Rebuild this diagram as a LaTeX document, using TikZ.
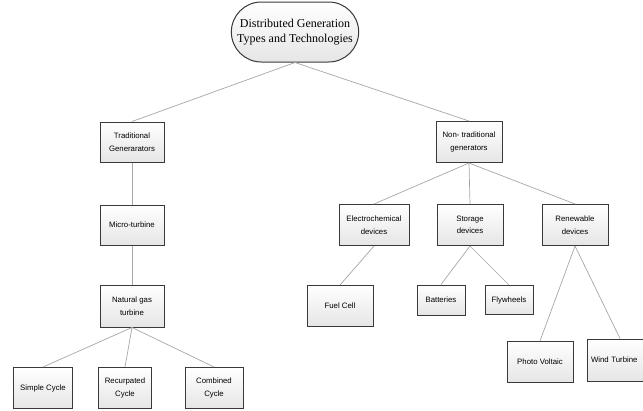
\documentclass[tikz,border=0pt]{standalone}
\usepackage{fontspec}
\setmainfont{Liberation Sans}
\newfontfamily\serifroot{Liberation Serif}
\usetikzlibrary{shapes.misc,shadows}
\begin{document}
\begin{tikzpicture}[x=1pt,y=-1pt,
  boxnode/.style={draw=gray!45!black, line width=1pt, top color=white, bottom color=gray!20,
    rectangle, minimum width=#1, align=center, font=\fontsize{7.8}{12.5}\selectfont, inner sep=1pt},
  boxnode/.default=64pt,
  rootnode/.style={draw=gray!45!black, line width=1pt, top color=white, bottom color=gray!20,
    rounded rectangle, minimum width=134pt, minimum height=60pt, align=center,
    font=\serifroot\fontsize{12}{15}\selectfont},
  link/.style={draw=gray!70, line width=0.7pt}]
\useasboundingbox (0,0) rectangle (643,410);
\begin{scope}
\clip (0,0) rectangle (643,410);
\node[rootnode] (root) at (295,32) {Distributed Generation\\Types and Technologies};
\node[boxnode, minimum height=40pt] (trad) at (132,142) {Traditional\\Generarators};
\node[boxnode=66pt, minimum height=41pt] (nontrad) at (469,142) {Non- traditional\\generators};
\node[boxnode, minimum height=40pt] (micro) at (132,225) {Micro-turbine};
\node[boxnode, minimum height=42pt] (gas) at (132,306) {Natural gas\\turbine};
\node[boxnode=59pt, minimum height=41pt] (simple) at (43,388) {Simple Cycle};
\node[boxnode=53pt, minimum height=41pt] (recup) at (125,388) {Recurpated\\Cycle};
\node[boxnode=58pt, minimum height=41pt] (comb) at (214,388) {Combined\\Cycle};
\node[boxnode=70pt, minimum height=41pt] (electro) at (374,225) {Electrochemical\\devices};
\node[boxnode=66pt, minimum height=41pt] (storage) at (470,225) {Storage\\devices};
\node[boxnode=66pt, minimum height=41pt] (renew) at (575,225) {Renewable\\devices};
\node[boxnode=66pt, minimum height=41pt] (fuel) at (340,306) {Fuel Cell};
\node[boxnode=48pt, minimum height=30pt] (batt) at (441,300) {Batteries};
\node[boxnode=48pt, minimum height=29pt] (fly) at (509,300) {Flywheels};
\node[boxnode=66pt, minimum height=41pt] (pv) at (540,362) {Photo Voltaic};
\node[boxnode=66pt, minimum height=42pt, text width=58pt, align=left] (wind) at (620,360) {Wind Turbine};
\end{scope}
\draw[link] (root.south) -- (trad.north);
\draw[link] (root.south) -- (nontrad.north);
\draw[link] (trad) -- (micro);
\draw[link] (micro) -- (gas);
\draw[link] (gas.south) -- (simple.north);
\draw[link] (gas.south) -- (recup.north);
\draw[link] (gas.south) -- (comb.north);
\draw[link] (nontrad.south) -- (electro.north);
\draw[link] (nontrad.south) -- (storage.north);
\draw[link] (nontrad.south) -- (renew.north);
\draw[link] (electro.south) -- (fuel.north);
\draw[link] (storage.south) -- (batt.north);
\draw[link] (storage.south) -- (fly.north);
\draw[link] (renew.south) -- (pv.north);
\draw[link] (renew.south) -- (wind.north);
\end{tikzpicture}
\end{document}
